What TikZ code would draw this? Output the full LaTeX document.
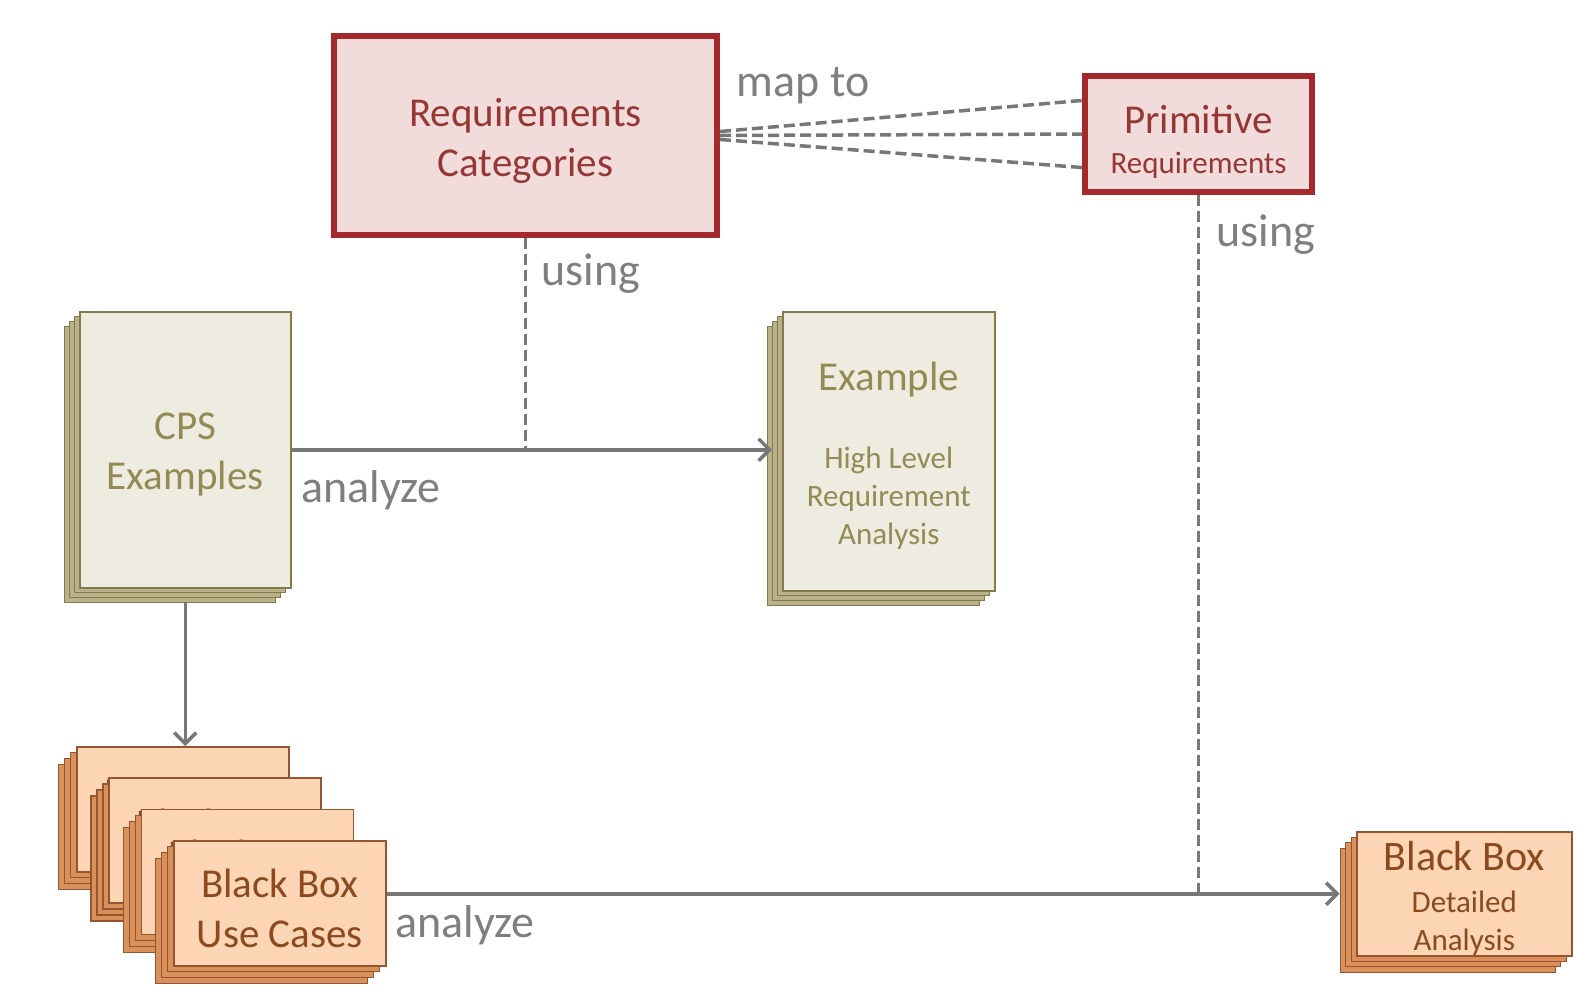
\documentclass[tikz,border=0pt]{standalone}
\usepackage{fontspec}
\setmainfont{Carlito}
\usetikzlibrary{calc,arrows.meta}

\definecolor{rcline}{HTML}{A3292D}
\definecolor{rcfill}{HTML}{F2DCDB}
\definecolor{rctext}{HTML}{953735}
\definecolor{olface}{HTML}{EEECE1}
\definecolor{olline}{HTML}{857B4A}
\definecolor{olback}{HTML}{B9B189}
\definecolor{oltext}{HTML}{948A54}
\definecolor{orface}{HTML}{FCD5B5}
\definecolor{orline}{HTML}{945530}
\definecolor{orback}{HTML}{DA905A}
\definecolor{ortext}{HTML}{8A4A1E}
\definecolor{lblgray}{HTML}{7F7F7F}
\definecolor{conngray}{HTML}{777777}

\tikzset{
  redbox/.style={draw=rcline, fill=rcfill, line width=6pt, inner sep=0pt},
  redtext/.style={text=rctext, align=center, inner sep=0pt},
  olback/.style={draw=olline, fill=olback, line width=1.2pt, inner sep=0pt},
  olfront/.style={draw=olline, fill=olface, line width=1.5pt, inner sep=0pt},
  oltext/.style={text=oltext, align=center, inner sep=0pt},
  orback/.style={draw=orline, fill=orback, line width=1.2pt, inner sep=0pt},
  orfront/.style={draw=orline, fill=orface, line width=1.5pt, inner sep=0pt},
  ortext/.style={text=ortext, align=center, inner sep=0pt},
  lbl/.style={text=lblgray, font=\fontsize{46}{52}\selectfont, inner sep=1pt},
  flow/.style={draw=conngray, line width=3.5pt,
    -{Straight Barb[length=11pt,width=22pt]}},
  dashconn/.style={draw=conngray, line width=3.5pt, dash pattern=on 11pt off 5pt},
  bigtext/.style={font=\fontsize{41}{50}\selectfont},
  smalltext/.style={font=\fontsize{31}{38}\selectfont},
}

% a card with three sheets stacked behind it, offset down and to the left
% #1 name, #2 x, #3 y (north west corner of the front), #4 width, #5 height,
% #6 sheet offset, #7 colour family, #8 text options, #9 text
\newcommand{\pilebox}[9]{%
  \foreach \k in {3,2,1}{
    \node[#7back, minimum width=#4pt, minimum height=#5pt, anchor=north west]
      (#1-s\k) at ({#2-#6*\k},{#3+#6*\k}) {};
  }
  \node[#7front, minimum width=#4pt, minimum height=#5pt, anchor=north west]
    (#1) at (#2,#3) {};
  \node[#7text, #8] (#1-t) at ($(#1.center)+(0,5)$) {#9};
}

\begin{document}
\begin{tikzpicture}[x=1pt,y=-1pt]
\useasboundingbox[fill=white] (0,0) rectangle (1587,997);

% requirement boxes
\node[redbox, minimum width=383pt, minimum height=199pt] (rc) at (525.5,135.5) {};
\node[redtext, bigtext] (rc-t) at ($(rc.center)+(0,5)$) {Requirements\\Categories};
\node[redbox, minimum width=227pt, minimum height=116pt] (prim) at (1198.5,134) {};
\node[redtext, smalltext] (prim-t) at ($(prim.center)+(0,8)$)
  {{\fontsize{41}{50}\selectfont Primitive}\\[2pt]Requirements};

% examples
\pilebox{cps}{79}{311}{211}{276}{5}{ol}{bigtext}{CPS\\Examples}
\pilebox{ex}{782}{311}{212}{279}{5}{ol}{smalltext}%
  {{\fontsize{41}{50}\selectfont Example}\\[40pt]High Level\\Requirement\\Analysis}

% use case cards, the back ones mostly hidden by the next card
\pilebox{uc1}{76}{746}{212}{125}{6}{or}{bigtext, yshift=-3pt}{Black Box\\\phantom{Use Cases}}
\pilebox{uc2}{108.3}{777.3}{212}{125}{6}{or}{bigtext, yshift=-3pt}{Black Box\\\phantom{Use Cases}}
\pilebox{uc3}{140.6}{808.6}{212}{125}{6}{or}{bigtext, yshift=-3pt}{Black Box\\\phantom{Use Cases}}
\pilebox{uc4}{173}{840}{212}{125}{6}{or}{bigtext}{Black Box\\Use Cases}

% detailed analysis
\pilebox{bbd}{1356}{831}{215}{124}{5.5}{or}{smalltext}%
  {{\fontsize{42}{50}\selectfont Black Box}\\[4pt]Detailed\\Analysis}

% mapping lines
\draw[dashconn] ($(rc.east)+(0,-4)$) -- ($(prim.west)!0.55!(prim.north west)$);
\draw[dashconn] (rc.east) -- (prim.west);
\draw[dashconn] ($(rc.east)+(0,4)$) -- ($(prim.west)!0.55!(prim.south west)$);

% "using" links
\draw[dashconn] (rc.south) -- (rc.south |- cps.east);
\draw[dashconn] (prim.south) -- (prim.south |- bbd.west);

% analysis flows
\draw[flow] (cps.east) -- (cps.east -| ex-s2.west);
\draw[flow] (cps-s3.south -| cps.south) -- (cps.south |- uc1.north);
\draw[flow] (uc4.east |- bbd.west) -- (bbd.west -| bbd-s3.west);

% labels
\node[lbl] (mapto) at (803,86) {map to};
\node[lbl] (using1) at (591,274) {using};
\node[lbl] (an1) at (371,490) {analyze};
\node[lbl] (using2) at (1266,235) {using};
\node[lbl] (an2) at (465,925) {analyze};
\end{tikzpicture}
\end{document}
